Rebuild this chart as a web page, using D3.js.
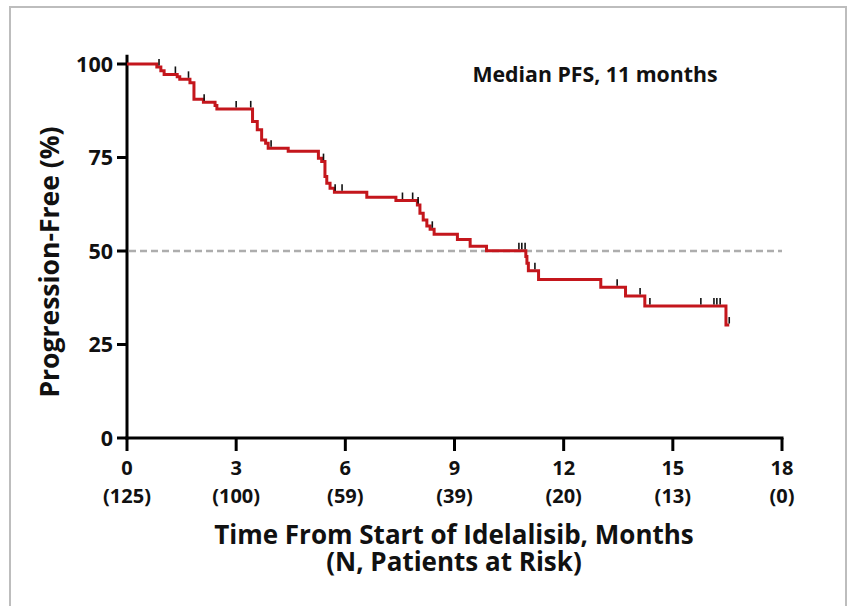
<!DOCTYPE html>
<html>
<head>
<meta charset="utf-8">
<style>
  body { margin: 0; background: #fff; }
  svg { display: block; }
  text { font-family: "Open Sans", "DejaVu Sans", sans-serif; font-weight: 700; fill: #111; }
  .axis-line { stroke: #000; stroke-width: 3; fill: none; }
  .km { stroke: #c4161c; stroke-width: 3; fill: none; }
  .censor { stroke: #111; stroke-width: 1.6; }
  .median { stroke: #adadad; stroke-width: 2.4; stroke-dasharray: 7 4; fill: none; }
</style>
</head>
<body>
<svg width="848" height="606"></svg>
<script src="https://d3js.org/d3.v7.min.js"></script>
<script>
// step times (months) and survival (%) from that time on
var stepTimes = [0, 0.82, 0.93, 1.02, 1.38, 1.45, 1.73, 1.84, 2.10, 2.42, 2.47, 3.45, 3.58, 3.70, 3.81, 3.88, 4.43,
  5.26, 5.35, 5.44, 5.49, 5.58, 5.70, 6.59, 7.39, 7.98, 8.05, 8.14, 8.24, 8.33, 8.44, 9.08, 9.43, 9.88,
  10.96, 10.99, 11.03, 11.31, 13.02, 13.70, 14.23, 16.46];
var stepSurv = [100, 99.2, 98.2, 97.2, 96.6, 95.9, 95.0, 90.6, 89.8, 88.9, 88.0, 84.6, 82.4, 79.7, 78.8, 77.5, 76.7,
  74.8, 73.9, 69.9, 68.1, 66.8, 65.7, 64.4, 63.5, 62.3, 60.1, 58.3, 56.7, 55.8, 54.5, 53.1, 51.3, 50.1,
  48.5, 46.7, 44.7, 42.4, 40.3, 38.0, 35.3, 30.2];
var lastTime = 16.55;

// censored patients (months)
var censorTimes = [0.88, 1.33, 1.69, 2.12, 3.0, 3.40, 3.96, 5.40, 5.72, 5.91, 7.57, 7.85, 8.0, 8.39,
  10.77, 10.85, 10.94, 11.21, 13.47, 14.10, 14.37, 15.77, 16.13, 16.21, 16.30, 16.55];

var xTicks = [0, 3, 6, 9, 12, 15, 18];
var atRisk = ["(125)", "(100)", "(59)", "(39)", "(20)", "(13)", "(0)"];
var yTicks = [0, 25, 50, 75, 100];
var medianLevel = 50;

var svg = d3.select("svg");

// outer frame (open at the bottom)
svg.append("path")
  .attr("d", "M10,610 V7 H846 V610")
  .attr("fill", "none")
  .attr("stroke", "#bdbdbd")
  .attr("stroke-width", 2);

var x = d3.scaleLinear().domain([0, 18]).range([127, 782]);
var y = d3.scaleLinear().domain([0, 100]).range([438, 64]);

// dashed median line
svg.append("line").attr("class", "median")
  .attr("x1", x(0) + 2).attr("x2", x(18))
  .attr("y1", y(medianLevel)).attr("y2", y(medianLevel));

// axes
svg.append("line").attr("class", "axis-line")
  .attr("x1", x(0)).attr("x2", x(0))
  .attr("y1", y(0) + 1.5).attr("y2", y(102.5));
svg.append("line").attr("class", "axis-line")
  .attr("x1", x(0) - 1.5).attr("x2", x(18) + 1.5)
  .attr("y1", y(0)).attr("y2", y(0));

svg.selectAll(".ytick").data(yTicks).enter().append("line")
  .attr("class", "axis-line")
  .attr("x1", x(0) - 10).attr("x2", x(0))
  .attr("y1", function(d) { return y(d); }).attr("y2", function(d) { return y(d); });
svg.selectAll(".ylab").data(yTicks).enter().append("text")
  .attr("x", 113).attr("y", function(d) { return y(d) + 7.5; })
  .attr("text-anchor", "end").attr("font-size", 21.5)
  .text(function(d) { return d; });

svg.selectAll(".xtick").data(xTicks).enter().append("line")
  .attr("class", "axis-line")
  .attr("x1", function(d) { return x(d); }).attr("x2", function(d) { return x(d); })
  .attr("y1", y(0)).attr("y2", y(0) + 13);
svg.selectAll(".xlab").data(xTicks).enter().append("text")
  .attr("x", function(d) { return x(d); }).attr("y", 475)
  .attr("text-anchor", "middle").attr("font-size", 20)
  .text(function(d) { return d; });
svg.selectAll(".risk").data(atRisk).enter().append("text")
  .attr("x", function(d, i) { return x(xTicks[i]); }).attr("y", 502.5)
  .attr("text-anchor", "middle").attr("font-size", 20)
  .text(function(d) { return d; });

// titles
var xTitle = svg.append("text")
  .attr("text-anchor", "middle").attr("font-size", 26);
xTitle.append("tspan").attr("x", 454).attr("y", 544).text("Time From Start of Idelalisib, Months");
xTitle.append("tspan").attr("x", 454).attr("dy", 27).text("(N, Patients at Risk)");

svg.append("text")
  .attr("transform", "translate(59,262) rotate(-90)")
  .attr("text-anchor", "middle").attr("font-size", 26.5)
  .text("Progression-Free (%)");
svg.append("text")
  .attr("x", 595).attr("y", 82).attr("text-anchor", "middle").attr("font-size", 21.3)
  .text("Median PFS, 11 months");

// Kaplan-Meier curve
var pts = stepTimes.map(function(t, i) { return [t, stepSurv[i]]; });
pts.push([lastTime, stepSurv[stepSurv.length - 1]]);
var line = d3.line()
  .x(function(d) { return x(d[0]); })
  .y(function(d) { return y(d[1]); })
  .curve(d3.curveStepAfter);
svg.append("path").attr("class", "km").attr("d", line(pts));

var bis = d3.bisector(function(d) { return d; }).right;
function survAt(t) { return stepSurv[Math.max(0, bis(stepTimes, t) - 1)]; }

svg.selectAll(".censor").data(censorTimes).enter().append("line")
  .attr("class", "censor")
  .attr("x1", function(d) { return x(d); }).attr("x2", function(d) { return x(d); })
  .attr("y1", function(d) { return y(survAt(d)) - 1.5; })
  .attr("y2", function(d) { return y(survAt(d)) - 8; });
</script>
</body>
</html>
